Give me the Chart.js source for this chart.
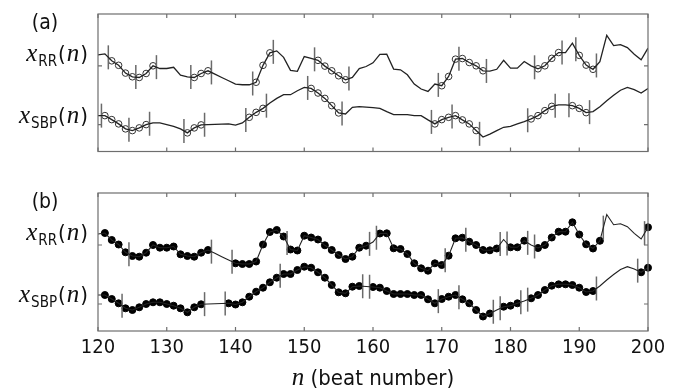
<!DOCTYPE html>
<html>
<head>
<meta charset="utf-8">
<script src="https://cdn.jsdelivr.net/npm/chart.js@4.4.1/dist/chart.umd.min.js"></script>
<style>
    body { margin: 0; background: #fff; }
    .panel { position: absolute; left: 0; }
    #panelA { top: 0; }
    #panelB { top: 175px; }
</style>
</head>
<body>
<div class="panel" id="panelA"><canvas id="chartA" width="681" height="165"></canvas></div>
<div class="panel" id="panelB"><canvas id="chartB" width="681" height="215"></canvas></div>
<script>
// beat numbers and the two signals (arbitrary units)
const beats = [120, 121, 122, 123, 124, 125, 126, 127, 128, 129,
    130, 131, 132, 133, 134, 135, 136, 137, 138, 139,
    140, 141, 142, 143, 144, 145, 146, 147, 148, 149,
    150, 151, 152, 153, 154, 155, 156, 157, 158, 159,
    160, 161, 162, 163, 164, 165, 166, 167, 168, 169,
    170, 171, 172, 173, 174, 175, 176, 177, 178, 179,
    180, 181, 182, 183, 184, 185, 186, 187, 188, 189,
    190, 191, 192, 193, 194, 195, 196, 197, 198, 199, 200];

const rrValues = [97, 98, 91, 86.5, 78.7, 75, 74.3, 78.3, 86, 83.3,
    83.3, 84.5, 76.7, 75, 74.3, 78.3, 81, 77.7, 74.3, 71,
    67.7, 67, 67, 69.5, 86.5, 99, 101, 94.5, 81.5, 80.5,
    95.3, 93.5, 91.5, 85.7, 81, 76, 72, 74.3, 83.3, 85.3,
    89, 97.5, 97.7, 82.7, 82, 77, 67.7, 62.7, 60.3, 67.7,
    66, 75.3, 92.7, 93.3, 89.3, 86, 81, 80.7, 82.5, 91.5,
    83.7, 83.7, 90.3, 86, 83, 86, 93.5, 99.3, 99.3, 108.7,
    96.5, 86.7, 82.5, 90.2, 116.5, 106.3, 107.3, 104.3, 97.7, 92, 103.7];

const sbpValues = [36, 36, 32, 27.7, 22.7, 21, 23.7, 27, 28.7, 28.7,
    27, 25.3, 22.7, 18.7, 23.7, 26.7, 27, 27.3, 27.5, 27.7,
    26.5, 28.7, 34.3, 39.3, 43.3, 48.7, 53.3, 57, 57, 61,
    64.3, 63.3, 58.7, 53.3, 46, 38.7, 37.7, 44.3, 45, 44.5,
    44, 43.3, 40, 37, 37, 37, 36, 36, 31.7, 27.7,
    32, 34.3, 36, 31.7, 27.7, 21, 14.5, 17.5, 21, 24.3,
    25.3, 27.7, 30, 32.7, 36, 41, 45.3, 46.7, 46.7, 46,
    43.3, 39, 40, 45, 51, 56.5, 61.5, 64.3, 62, 58.7, 63.3];

const xTicks = [120, 130, 140, 150, 160, 170, 180, 190, 200];
const levelTicks = [27, 86]; // where the x_SBP / x_RR labels sit

// panel (a): open circles and segment cuts
const rrOpenA = [122, 123, 124, 125, 126, 127, 128, 134, 135, 136, 143, 144, 145,
    152, 153, 154, 155, 156, 170, 171, 172, 173, 174, 175, 176, 184, 185, 186, 187, 190, 191, 192];
const sbpOpenA = [121, 122, 123, 124, 125, 126, 127, 133, 134, 135, 142, 143, 144,
    151, 152, 153, 154, 155, 169, 170, 171, 172, 173, 174, 175, 183, 184, 185, 186, 189, 190, 191];
const rrCutsA = [121.5, 125.5, 128.5, 133.5, 136.5, 142.5, 145.5, 151.5, 156.5,
    169.5, 172.5, 176.5, 183.5, 187.5, 189.5, 192.5];
const sbpCutsA = [120.5, 124.5, 127.5, 132.5, 135.5, 141.5, 144.5, 150.5, 155.5,
    168.5, 171.5, 175.5, 182.5, 186.5, 188.5, 191.5];

// panel (b): filled dots and segment cuts
const rrDotsB = [121, 122, 123, 124, 125, 126, 127, 128, 129, 130, 131, 132, 133, 134, 135, 136,
    140, 141, 142, 143, 144, 145, 146, 147, 148, 149, 150, 151, 152, 153, 154, 155, 156, 157, 158, 159,
    161, 162, 163, 164, 165, 166, 167, 168, 169, 170, 171, 172, 173, 174, 175, 176, 177, 178,
    180, 181, 182, 184, 185, 186, 187, 188, 189, 190, 191, 192, 193, 200];
const sbpDotsB = [121, 122, 123, 124, 125, 126, 127, 128, 129, 130, 131, 132, 133, 134, 135,
    139, 140, 141, 142, 143, 144, 145, 146, 147, 148, 149, 150, 151, 152, 153, 154, 155, 156, 157, 158,
    160, 161, 162, 163, 164, 165, 166, 167, 168, 169, 170, 171, 172, 173, 174, 175, 176, 177,
    179, 180, 181, 183, 184, 185, 186, 187, 188, 189, 190, 191, 192, 199, 200];
const rrCutsB = [124.5, 136.5, 139.5, 147.5, 159.5, 160.5, 170.5, 173.5, 178.5, 179.5,
    182.5, 183.5, 193.5, 199.5];
const sbpCutsB = [123.5, 135.5, 138.5, 146.5, 158.5, 159.5, 169.5, 172.5, 177.5, 178.5,
    181.5, 182.5, 192.5, 198.5];

const LABEL_FONT = '"Liberation Sans Narrow", "DejaVu Sans Condensed", "Liberation Sans", sans-serif';
const MATH_FONT = '"Liberation Serif", "DejaVu Serif", serif';

function valueAt(series, beat) {
    const lo = Math.floor(beat), hi = Math.ceil(beat);
    const a = series[beats.indexOf(lo)], b = series[beats.indexOf(hi)];
    return (a + b) / 2;
}

function pointsOf(series, list) {
    return list.map(b => ({ x: b, y: series[beats.indexOf(b)] }));
}

function cutsOf(series, list) {
    return list.map(b => ({ x: b, y: valueAt(series, b) }));
}

function lineSet(series, width) {
    return {
        data: beats.map((b, i) => ({ x: b, y: series[i] })),
        borderColor: '#222',
        borderWidth: width,
        pointRadius: 0,
        showLine: true,
        tension: 0
    };
}

function cutSet(data) {
    return {
        data: data,
        showLine: false,
        pointStyle: 'line',
        rotation: 90,
        pointRadius: 12,
        borderColor: '#6a6a6a',
        borderWidth: 1.5,
        clip: false
    };
}

function markSet(data, filled) {
    return {
        data: data,
        showLine: false,
        pointStyle: 'circle',
        pointRadius: filled ? 3.5 : 3.3,
        backgroundColor: filled ? '#000' : '#fff',
        borderColor: filled ? '#000' : '#333',
        borderWidth: 1,
        clip: false
    };
}

// draws one "x_SUB(n)" label, right-aligned
function drawSignalLabel(ctx, right, base, sub) {
    const parts = [
        { t: 'x', f: 'italic 25px ' + MATH_FONT, dy: 0 },
        { t: sub, f: '15px ' + LABEL_FONT, dy: 5 },
        { t: '(', f: '22px ' + LABEL_FONT, dy: 0 },
        { t: 'n', f: 'italic 25px ' + MATH_FONT, dy: 0 },
        { t: ')', f: '22px ' + LABEL_FONT, dy: 0 }
    ];
    let total = 0;
    parts.forEach(p => { ctx.font = p.f; p.w = ctx.measureText(p.t).width; total += p.w + 1; });
    let x = right - total;
    ctx.textBaseline = 'alphabetic';
    ctx.textAlign = 'left';
    parts.forEach(p => { ctx.font = p.f; ctx.fillText(p.t, x, base + p.dy); x += p.w + 1; });
}

const framePlugin = {
    id: 'frame',
    afterDraw(chart) {
        const { ctx, chartArea: a, scales: { x, y } } = chart;
        const opts = chart.options.plugins.frame;
        ctx.save();
        ctx.strokeStyle = '#6e6e6e';
        ctx.lineWidth = 1.2;
        ctx.strokeRect(a.left, a.top, a.right - a.left, a.bottom - a.top);
        ctx.beginPath();
        xTicks.forEach(v => {
            const px = x.getPixelForValue(v);
            ctx.moveTo(px, a.top); ctx.lineTo(px, a.top + 4);
            ctx.moveTo(px, a.bottom); ctx.lineTo(px, a.bottom - 4);
        });
        levelTicks.forEach(v => {
            const py = y.getPixelForValue(v);
            ctx.moveTo(a.left, py); ctx.lineTo(a.left + 4, py);
            ctx.moveTo(a.right, py); ctx.lineTo(a.right - 4, py);
        });
        ctx.stroke();

        ctx.fillStyle = '#111';
        ctx.font = '21px ' + LABEL_FONT;
        ctx.textAlign = 'center';
        ctx.textBaseline = 'middle';
        ctx.fillText(opts.tag, 45, a.top + 10);
        drawSignalLabel(ctx, 89, y.getPixelForValue(86) - 5, 'RR');
        drawSignalLabel(ctx, 89, y.getPixelForValue(27) - 2, 'SBP');

        if (opts.showTitle) {
            ctx.textBaseline = 'alphabetic';
            ctx.textAlign = 'left';
            ctx.font = 'italic 25px ' + MATH_FONT;
            const nW = ctx.measureText('n').width;
            ctx.font = '22px ' + LABEL_FONT;
            const rest = ' (beat number)';
            const rW = ctx.measureText(rest).width;
            const cx = (a.left + a.right) / 2;
            let sx = cx - (nW + rW) / 2;
            ctx.font = 'italic 25px ' + MATH_FONT;
            ctx.fillText('n', sx, a.bottom + 54);
            ctx.font = '22px ' + LABEL_FONT;
            ctx.fillText(rest, sx + nW, a.bottom + 54);
        }
        ctx.restore();
    }
};

function makeOptions(tag, bottomHeight, showTicks, topPad) {
    return {
        responsive: false,
        animation: false,
        layout: { padding: { top: topPad, right: 33, left: 0, bottom: 0 } },
        plugins: {
            legend: { display: false },
            tooltip: { enabled: false },
            frame: { tag: tag, showTitle: showTicks }
        },
        scales: {
            x: {
                type: 'linear',
                min: 120,
                max: 200,
                afterBuildTicks: axis => { axis.ticks = xTicks.map(v => ({ value: v })); },
                afterFit: axis => { axis.height = bottomHeight; },
                grid: { display: false, drawTicks: false },
                border: { display: false },
                ticks: {
                    display: showTicks,
                    padding: 5,
                    color: '#111',
                    font: { family: LABEL_FONT, size: 20 },
                    maxRotation: 0
                }
            },
            y: {
                type: 'linear',
                min: 0,
                max: 138,
                afterBuildTicks: axis => { axis.ticks = levelTicks.map(v => ({ value: v })); },
                afterFit: axis => { axis.width = 98; },
                grid: { display: false, drawTicks: false },
                border: { display: false },
                ticks: { display: false }
            }
        }
    };
}

new Chart(document.getElementById('chartA'), {
    type: 'scatter',
    data: {
        datasets: [
            lineSet(rrValues, 1.3),
            lineSet(sbpValues, 1.3),
            cutSet(cutsOf(rrValues, rrCutsA)),
            cutSet(cutsOf(sbpValues, sbpCutsA)),
            markSet(pointsOf(rrValues, rrOpenA), false),
            markSet(pointsOf(sbpValues, sbpOpenA), false)
        ]
    },
    options: makeOptions('(a)', 13, false, 14),
    plugins: [framePlugin]
});

new Chart(document.getElementById('chartB'), {
    type: 'scatter',
    data: {
        datasets: [
            lineSet(rrValues, 1.1),
            lineSet(sbpValues, 1.1),
            cutSet(cutsOf(rrValues, rrCutsB)),
            cutSet(cutsOf(sbpValues, sbpCutsB)),
            markSet(pointsOf(rrValues, rrDotsB), true),
            markSet(pointsOf(sbpValues, sbpDotsB), true)
        ]
    },
    options: makeOptions('(b)', 59, true, 18),
    plugins: [framePlugin]
});
</script>
</body>
</html>
